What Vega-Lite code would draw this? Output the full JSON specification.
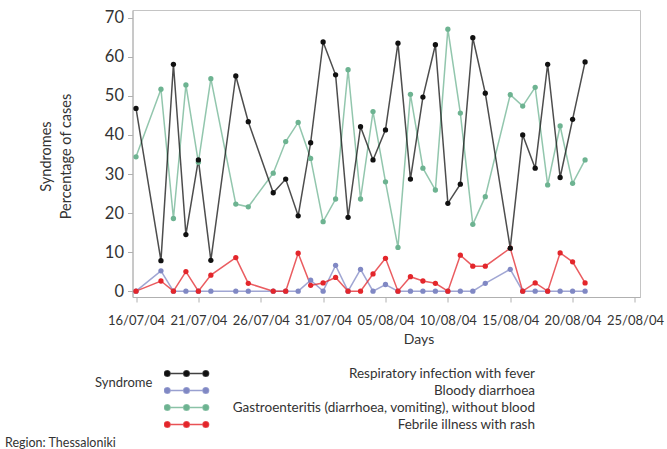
{
  "$schema": "https://vega.github.io/schema/vega-lite/v6.json",
  "width": 507.5,
  "height": 287,
  "autosize": {"type": "none"},
  "padding": {"left": 132.5, "top": 10, "right": 27, "bottom": 152},
  "background": "white",
  "config": {
    "font": "Lato",
    "view": {"stroke": "#c4c4c4", "strokeWidth": 1}
  },
  "title": {
    "text": "Region: Thessaloniki",
    "orient": "bottom",
    "anchor": "start",
    "frame": "group",
    "fontSize": 12.5,
    "fontWeight": "normal",
    "color": "#333333",
    "dx": -127.5,
    "dy": 0
  },
  "data": {
    "values": [
      {"date": "2004-07-16", "resp": 46.8, "bloody": 0, "gastro": 34.4, "febrile": 0},
      {"date": "2004-07-18", "resp": 7.8, "bloody": 5.2, "gastro": 51.7, "febrile": 2.6},
      {"date": "2004-07-19", "resp": 58.1, "bloody": 0, "gastro": 18.6, "febrile": 0},
      {"date": "2004-07-20", "resp": 14.5, "bloody": 0, "gastro": 52.8, "febrile": 5.0},
      {"date": "2004-07-21", "resp": 33.6, "bloody": 0, "gastro": 33.0, "febrile": 0},
      {"date": "2004-07-22", "resp": 7.9, "bloody": 0, "gastro": 54.4, "febrile": 4.1},
      {"date": "2004-07-24", "resp": 55.1, "bloody": 0, "gastro": 22.3, "febrile": 8.6},
      {"date": "2004-07-25", "resp": 43.4, "bloody": 0, "gastro": 21.6, "febrile": 2.0},
      {"date": "2004-07-27", "resp": 25.2, "bloody": 0, "gastro": 30.2, "febrile": 0},
      {"date": "2004-07-28", "resp": 28.7, "bloody": 0, "gastro": 38.3, "febrile": 0},
      {"date": "2004-07-29", "resp": 19.3, "bloody": 0, "gastro": 43.2, "febrile": 9.7},
      {"date": "2004-07-30", "resp": 38.0, "bloody": 2.8, "gastro": 34.0, "febrile": 1.5},
      {"date": "2004-07-31", "resp": 63.8, "bloody": 0, "gastro": 17.8, "febrile": 2.1},
      {"date": "2004-08-01", "resp": 55.4, "bloody": 6.6, "gastro": 23.6, "febrile": 3.5},
      {"date": "2004-08-02", "resp": 18.9, "bloody": 0, "gastro": 56.7, "febrile": 0},
      {"date": "2004-08-03", "resp": 42.1, "bloody": 5.6, "gastro": 23.6, "febrile": 0},
      {"date": "2004-08-04", "resp": 33.6, "bloody": 0, "gastro": 46.0, "febrile": 4.4},
      {"date": "2004-08-05", "resp": 41.3, "bloody": 1.7, "gastro": 28.0, "febrile": 8.4},
      {"date": "2004-08-06", "resp": 63.5, "bloody": 0, "gastro": 11.2, "febrile": 0},
      {"date": "2004-08-07", "resp": 28.7, "bloody": 0, "gastro": 50.4, "febrile": 3.7},
      {"date": "2004-08-08", "resp": 49.7, "bloody": 0, "gastro": 31.5, "febrile": 2.6},
      {"date": "2004-08-09", "resp": 63.1, "bloody": 0, "gastro": 25.9, "febrile": 2.0},
      {"date": "2004-08-10", "resp": 22.5, "bloody": 0, "gastro": 67.1, "febrile": 0},
      {"date": "2004-08-11", "resp": 27.4, "bloody": 0, "gastro": 45.6, "febrile": 9.2},
      {"date": "2004-08-12", "resp": 64.9, "bloody": 0, "gastro": 17.1, "febrile": 6.4},
      {"date": "2004-08-13", "resp": 50.7, "bloody": 2.0, "gastro": 24.2, "febrile": 6.4},
      {"date": "2004-08-15", "resp": 11.0, "bloody": 5.6, "gastro": 50.3, "febrile": 11.0},
      {"date": "2004-08-16", "resp": 40.0, "bloody": 0, "gastro": 47.4, "febrile": 0},
      {"date": "2004-08-17", "resp": 31.5, "bloody": 0, "gastro": 52.2, "febrile": 2.1},
      {"date": "2004-08-18", "resp": 58.1, "bloody": 0, "gastro": 27.2, "febrile": 0},
      {"date": "2004-08-19", "resp": 29.1, "bloody": 0, "gastro": 42.3, "febrile": 9.8},
      {"date": "2004-08-20", "resp": 44.0, "bloody": 0, "gastro": 27.6, "febrile": 7.5},
      {"date": "2004-08-21", "resp": 58.7, "bloody": 0, "gastro": 33.6, "febrile": 2.1}
    ]
  },
  "transform": [
    {"fold": ["bloody", "febrile", "gastro", "resp"], "as": ["syndrome", "value"]}
  ],
  "encoding": {
    "x": {
      "field": "date",
      "type": "temporal",
      "title": "Days",
      "scale": {
        "type": "utc",
        "domain": [
          {"year": 2004, "month": 7, "date": 15, "hours": 17, "minutes": 15, "utc": true},
          {"year": 2004, "month": 8, "date": 25, "hours": 9, "minutes": 40, "utc": true}
        ]
      },
      "axis": {
        "values": [
          {"year": 2004, "month": 7, "date": 16, "utc": true},
          {"year": 2004, "month": 7, "date": 21, "utc": true},
          {"year": 2004, "month": 7, "date": 26, "utc": true},
          {"year": 2004, "month": 7, "date": 31, "utc": true},
          {"year": 2004, "month": 8, "date": 5, "utc": true},
          {"year": 2004, "month": 8, "date": 10, "utc": true},
          {"year": 2004, "month": 8, "date": 15, "utc": true},
          {"year": 2004, "month": 8, "date": 20, "utc": true},
          {"year": 2004, "month": 8, "date": 25, "utc": true}
        ],
        "format": "%d/%m/%y",
        "grid": false,
        "domainColor": "#b0b0b0",
        "tickColor": "#b0b0b0",
        "tickSize": 5,
        "labelPadding": 12,
        "labelFontSize": 13,
        "labelColor": "#333333",
        "labelFlush": false,
        "labelOverlap": false,
        "titleFontSize": 14,
        "titleFontWeight": "normal",
        "titleColor": "#333333",
        "titleX": 286,
        "titleY": 35,
        "titleAlign": "center",
        "titleBaseline": "top"
      }
    },
    "y": {
      "field": "value",
      "type": "quantitative",
      "title": ["Syndromes", "Percentage of cases"],
      "scale": {"domain": [-1.5, 72], "nice": false, "zero": false},
      "axis": {
        "values": [0, 10, 20, 30, 40, 50, 60, 70],
        "grid": false,
        "domainColor": "#b0b0b0",
        "tickColor": "#b0b0b0",
        "tickSize": 5,
        "labelPadding": 4,
        "labelFontSize": 16.5,
        "labelColor": "#333333",
        "titleFontSize": 14.5,
        "titleFontWeight": "normal",
        "titleColor": "#333333",
        "titleAngle": -90,
        "titleX": -86.5,
        "titleY": 146,
        "titleAlign": "center",
        "titleBaseline": "middle",
        "titleLineHeight": 20
      }
    },
    "color": {
      "field": "syndrome",
      "type": "nominal",
      "scale": {
        "domain": ["resp", "bloody", "gastro", "febrile"],
        "range": ["#111111", "#8088c4", "#6db391", "#e3262b"]
      },
      "legend": {
        "orient": "none",
        "legendX": -37.5,
        "legendY": 355,
        "title": "Syndrome",
        "titleOrient": "left",
        "titleAnchor": "start",
        "titleBaseline": "line-top",
        "titleLineHeight": 36,
        "titleFontSize": 13,
        "titleFontWeight": "normal",
        "titleColor": "#333333",
        "titlePadding": 11,
        "symbolType": "M-0.9,0L0.9,0M-1.03,0a0.13,0.13 0 1,0 0.26,0a0.13,0.13 0 1,0 -0.26,0M-0.13,0a0.13,0.13 0 1,0 0.26,0a0.13,0.13 0 1,0 -0.26,0M0.77,0a0.13,0.13 0 1,0 0.26,0a0.13,0.13 0 1,0 -0.26,0",
        "symbolSize": 1840,
        "symbolStrokeWidth": 1.5,
        "symbolOpacity": 1,
        "clipHeight": 17,
        "rowPadding": 0,
        "labelAlign": "right",
        "labelOffset": 326,
        "labelLimit": 0,
        "labelFontSize": 13.5,
        "labelColor": "#333333",
        "labelExpr": "datum.value === 'resp' ? 'Respiratory infection with fever' : datum.value === 'bloody' ? 'Bloody diarrhoea' : datum.value === 'gastro' ? 'Gastroenteritis (diarrhoea, vomiting), without blood' : 'Febrile illness with rash'",
        "encode": {
          "symbols": {
            "update": {
              "fill": {"scale": "color", "field": "value"},
              "stroke": {"scale": "color", "field": "value"},
              "opacity": {"value": 1},
              "strokeOpacity": {"value": 0.8},
              "fillOpacity": {"value": 1}
            }
          }
        }
      }
    }
  },
  "layer": [
    {"mark": {"type": "line", "strokeWidth": 1.5, "opacity": 0.75}},
    {"mark": {"type": "point", "filled": true, "size": 28, "opacity": 1}}
  ]
}
